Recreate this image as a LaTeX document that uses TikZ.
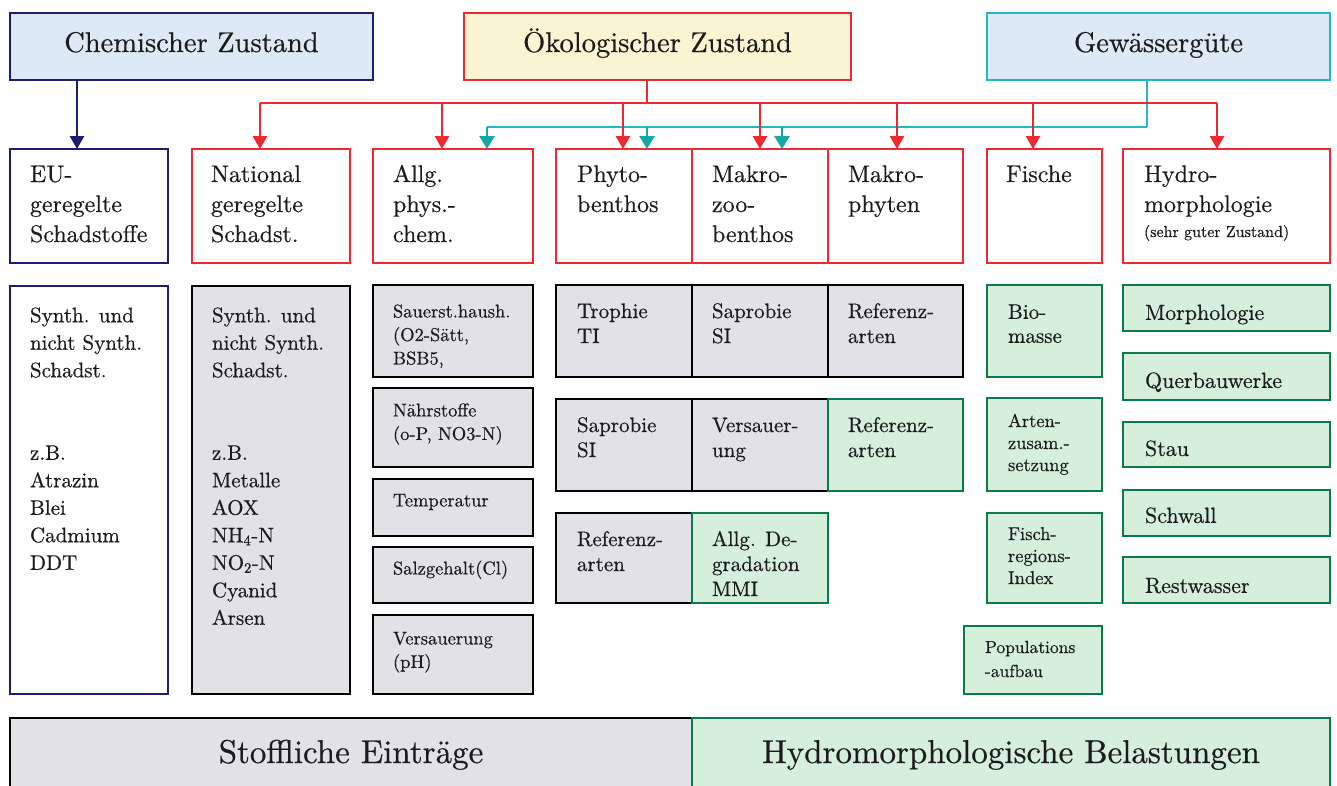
\documentclass[tikz,border=0pt]{standalone}
\usepackage{fontspec}
\setmainfont{lmroman10-regular.otf}[UprightFeatures={FakeBold=0.5}]
\usetikzlibrary{arrows.meta,calc}
\definecolor{navy}{HTML}{1E1E6E}
\definecolor{rd}{HTML}{EC2A30}
\definecolor{tl}{HTML}{22B8C8}
\definecolor{tla}{HTML}{14AAA2}
\definecolor{grn}{HTML}{0B7A4E}
\definecolor{bluef}{HTML}{DDE9F5}
\definecolor{yelf}{HTML}{FAF4D2}
\definecolor{grayf}{HTML}{E2E2E6}
\definecolor{grnf}{HTML}{D6EFDB}
\definecolor{txtc}{HTML}{1C1C1C}
\newcommand\fs[2]{\fontsize{#1}{#2}\selectfont}
\newcommand\mybox[6]{\node[bx,#6,minimum width={#4-#2},minimum height={#5-#3}] (#1) at (#2,#3) {};}
\newcommand\tx[6]{\node[txt,font=#5] (#1) at ($(#2.north west)+(#3,#4)$) {\strut #6};}
\begin{document}
\begin{tikzpicture}[x=1pt,y=-1pt,
  bx/.style={draw, line width=2.8pt, inner sep=0pt, outer sep=0pt, anchor=north west},
  gbox/.style={draw=black, fill=grayf},
  gnbox/.style={draw=grn, fill=grnf},
  txt/.style={anchor=north west, inner sep=0pt, outer sep=0pt, align=left, text=txtc},
  ttl/.style={anchor=base, inner sep=0pt, text=txtc, font=\fs{28.5}{34}},
  rl/.style={draw=rd, line width=2.8pt},
  ra/.style={rl, -{Triangle[width=14pt,length=13pt]}},
  tlin/.style={draw=tl, line width=2.8pt},
  ta/.style={draw=tla, line width=2.8pt, -{Triangle[width=15pt,length=13pt]}},
  na/.style={draw=navy, line width=2.8pt, -{Triangle[width=14pt,length=13pt]}}
]
\clip (0,0) rectangle (1337,785);
\fill[white] (0,0) rectangle (1337,785);

% top boxes
\mybox{chem}{10}{13}{373}{80}{draw=navy,fill=bluef}
\mybox{oeko}{464}{13}{851}{80}{draw=rd,fill=yelf}
\mybox{gew}{987}{13}{1330}{80}{draw=tl,fill=bluef}
\node[ttl] (chemt) at ($(chem.north)+(0,39)$) {Chemischer Zustand};
\node[ttl] (oekot) at ($(oeko.north)+(0,39)$) {Ökologischer Zustand};
\node[ttl] (gewt) at ($(gew.north)+(0,39)$) {Gewässergüte};

% row 2
\mybox{eu}{10}{149}{168}{263}{draw=navy,fill=white}
\mybox{nat}{192}{149}{350}{263}{draw=rd,fill=white}
\mybox{allg}{373}{149}{533}{263}{draw=rd,fill=white}
\mybox{phy}{556}{149}{692}{263}{draw=rd,fill=white}
\mybox{mzb}{692}{149}{828}{263}{draw=rd,fill=white}
\mybox{mph}{828}{149}{963}{263}{draw=rd,fill=white}
\mybox{fis}{987}{149}{1102}{263}{draw=rd,fill=white}
\mybox{hyd}{1123}{149}{1330}{263}{draw=rd,fill=white}
\tx{eut}{eu}{20}{12}{\fs{24}{30}}{EU-\\geregelte\\Schadstoffe}
\tx{natt}{nat}{19}{12}{\fs{24}{30}}{National\\geregelte\\Schadst.}
\tx{allgt}{allg}{20}{12}{\fs{24}{30}}{Allg.\\phys.-\\chem.}
\tx{phyt}{phy}{21}{12}{\fs{24}{30}}{Phyto-\\benthos}
\tx{mzbt}{mzb}{20}{12}{\fs{24}{30}}{Makro-\\zoo-\\benthos}
\tx{mpht}{mph}{20}{12}{\fs{24}{30}}{Makro-\\phyten}
\tx{fist}{fis}{19}{12}{\fs{24}{30}}{Fische}
\tx{hydt}{hyd}{21}{12}{\fs{24}{30}}{Hydro-\\morphologie}
\tx{hydz}{hyd}{21}{74}{\fs{16}{20}}{(sehr guter Zustand)}

% connectors
\draw[tlin] (gew.south) ++(-11.5,0) coordinate (gs) -- ($(gs)+(0,47)$);
\draw[tlin] ($(allg.north)+(34,-22)$) -- ($(gew.south)+(-11.5,47)$);
\draw[ta] ($(allg.north)+(34,-22)$) -- ($(allg.north)+(34,0)$);
\draw[ta] ($(phy.north)+(23,-22)$) -- ($(phy.north)+(23,0)$);
\draw[ta] ($(mzb.north)+(22,-22)$) -- ($(mzb.north)+(22,0)$);

\draw[rl] ($(oeko.south)+(-10.5,0)$) -- ($(oeko.south)+(-10.5,23)$);
\draw[rl] ($(nat.north)+(-11,-46)$) -- ($(hyd.north)+(-9.5,-46)$);
\draw[ra] ($(nat.north)+(-11,-46)$) -- ($(nat.north)+(-11,0)$);
\draw[ra] ($(allg.north)+(-11,-46)$) -- ($(allg.north)+(-11,0)$);
\draw[ra] ($(phy.north)+(-1,-46)$) -- ($(phy.north)+(-1,0)$);
\draw[ra] ($(mzb.north)+(0,-46)$) -- ($(mzb.north)+(0,0)$);
\draw[ra] ($(mph.north)+(1.5,-46)$) -- ($(mph.north)+(1.5,0)$);
\draw[ra] ($(fis.north)+(-11.5,-46)$) -- ($(fis.north)+(-11.5,0)$);
\draw[ra] ($(hyd.north)+(-9.5,-46)$) -- ($(hyd.north)+(-9.5,0)$);

\draw[na] ($(chem.south west)+(67,0)$) -- ($(eu.north west)+(67,0)$);

% row 3: left columns
\mybox{s1}{10}{286}{168}{694}{draw=navy,fill=white}
\mybox{s2}{192}{286}{350}{694}{gbox}
\tx{s1t}{s1}{20}{17}{\fs{21}{27.5}}{Synth. und\\nicht Synth.\\Schadst.\\[55pt]z.B.\\Atrazin\\Blei\\Cadmium\\DDT}
\tx{s2t}{s2}{20}{17}{\fs{21}{27.5}}{Synth. und\\nicht Synth.\\Schadst.\\[55pt]z.B.\\Metalle\\AOX\\NH\textsubscript{4}-N\\NO\textsubscript{2}-N\\Cyanid\\Arsen}

% Allg column
\mybox{a1}{373}{285}{533}{377}{gbox}
\mybox{a2}{373}{388}{533}{467}{gbox}
\mybox{a3}{373}{479}{533}{536}{gbox}
\mybox{a4}{373}{547}{533}{603}{gbox}
\mybox{a5}{373}{615}{533}{694}{gbox}
\tx{a1t}{a1}{20}{16}{\fs{18.5}{23.5}}{Sauerst.haush.\\(O2-Sätt,\\BSB5,}
\tx{a2t}{a2}{20}{12}{\fs{18.5}{23.5}}{Nährstoffe\\(o-P, NO3-N)}
\tx{a3t}{a3}{20}{11}{\fs{18.5}{23.5}}{Temperatur}
\tx{a4t}{a4}{20}{11}{\fs{18.5}{23.5}}{Salzgehalt(Cl)}
\tx{a5t}{a5}{20}{13}{\fs{18.5}{23.5}}{Versauerung\\(pH)}

% biology grid
\mybox{p1}{556}{285}{692}{377}{gbox}
\mybox{p2}{556}{399}{692}{491}{gbox}
\mybox{p3}{556}{513}{692}{603}{gbox}
\mybox{m1}{692}{285}{828}{377}{gbox}
\mybox{m2}{692}{399}{828}{491}{gbox}
\mybox{m3}{692}{513}{828}{603}{gnbox}
\mybox{h1}{828}{285}{963}{377}{gbox}
\mybox{h2}{828}{399}{963}{491}{gnbox}
\tx{p1t}{p1}{21}{15.5}{\fs{21}{25}}{Trophie\\TI}
\tx{p2t}{p2}{21}{15.5}{\fs{21}{25}}{Saprobie\\SI}
\tx{p3t}{p3}{21}{15.5}{\fs{21}{25}}{Referenz-\\arten}
\tx{m1t}{m1}{20}{15.5}{\fs{21}{25}}{Saprobie\\SI}
\tx{m2t}{m2}{20}{15.5}{\fs{21}{25}}{Versauer-\\ung}
\tx{m3t}{m3}{20}{15.5}{\fs{21}{25}}{Allg. De-\\gradation\\MMI}
\tx{h1t}{h1}{20}{15.5}{\fs{21}{25}}{Referenz-\\arten}
\tx{h2t}{h2}{20}{15.5}{\fs{21}{25}}{Referenz-\\arten}

% Fische column
\mybox{f1}{987}{285}{1102}{377}{gnbox}
\mybox{f2}{987}{398}{1102}{491}{gnbox}
\mybox{f3}{987}{513}{1102}{603}{gnbox}
\mybox{f4}{964}{626}{1102}{694}{gnbox}
\tx{f1t}{f1}{21}{17}{\fs{21}{24}}{Bio-\\masse}
\tx{f2t}{f2}{21}{13.6}{\fs{18.5}{22}}{Arten-\\zusam.-\\setzung}
\tx{f3t}{f3}{21}{11.6}{\fs{18.5}{22}}{Fisch-\\regions-\\Index}
\tx{f4t}{f4}{21}{10.2}{\fs{17.5}{24}}{Populations\\-aufbau}

% Hydro column
\mybox{y1}{1123}{285}{1330}{331}{gnbox}
\mybox{y2}{1123}{353}{1330}{400}{gnbox}
\mybox{y3}{1123}{422}{1330}{467}{gnbox}
\mybox{y4}{1123}{490}{1330}{536}{gnbox}
\mybox{y5}{1123}{557}{1330}{603}{gnbox}
\tx{y1t}{y1}{22}{16}{\fs{22}{27}}{Morphologie}
\tx{y2t}{y2}{22}{16}{\fs{22}{27}}{Querbauwerke}
\tx{y3t}{y3}{22}{15}{\fs{22}{27}}{Stau}
\tx{y4t}{y4}{22}{14}{\fs{22}{27}}{Schwall}
\tx{y5t}{y5}{22}{17}{\fs{22}{27}}{Restwasser}

% bottom bars
\mybox{b1}{10}{718}{692}{800}{gbox}
\mybox{b2}{692}{718}{1330}{800}{gnbox}
\node[anchor=base, inner sep=0pt, text=txtc, font=\fs{33}{40}] (b1t) at ($(b1.north)+(0,45)$) {Stoffliche Einträge};
\node[anchor=base, inner sep=0pt, text=txtc, font=\fs{33}{40}] (b2t) at ($(b2.north)+(0,45)$) {Hydromorphologische Belastungen};
\end{tikzpicture}
\end{document}
